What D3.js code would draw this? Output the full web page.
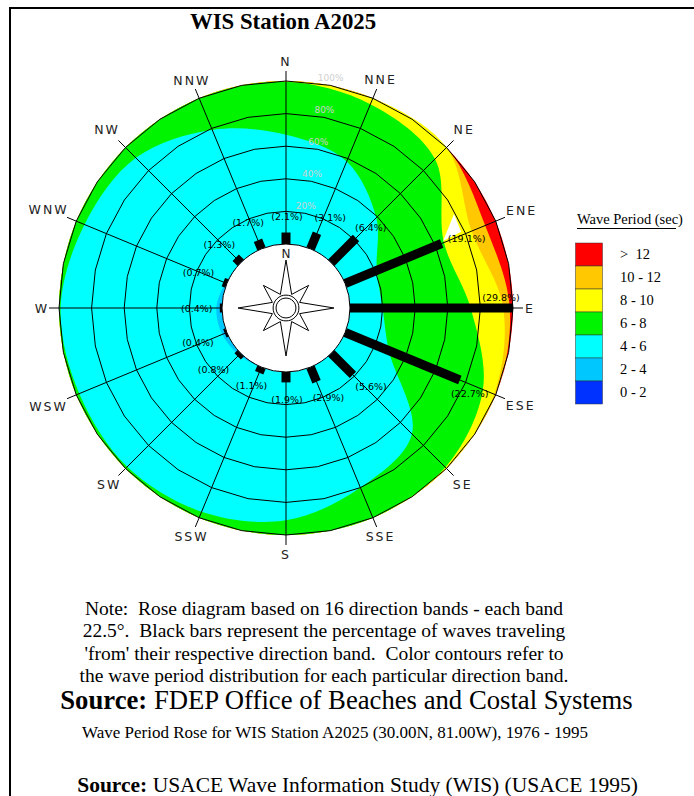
<!DOCTYPE html>
<html>
<head>
<meta charset="utf-8">
<script src="https://cdn.jsdelivr.net/npm/d3@7"></script>
<style>
body { margin: 0; background: white; }
svg { display: block; }
.serif { font-family: "Liberation Serif", serif; fill: black; }
.cad { font-family: "DejaVu Sans", sans-serif; fill: #222; }
</style>
</head>
<body>
<div id="chart"></div>
<script>
var directions = ['N', 'NNE', 'NE', 'ENE', 'E', 'ESE', 'SE', 'SSE', 'S', 'SSW', 'SW', 'WSW', 'W', 'WNW', 'NW', 'NNW'];
var barValues = [2.1, 3.1, 6.4, 19.1, 29.8, 22.7, 5.6, 2.9, 1.9, 1.1, 0.8, 0.4, 0.4, 0.7, 1.3, 1.7];
var ringTicks = [20, 40, 60, 80, 100];
var periodLabels = ['> 12', '10 - 12', '8 - 10', '6 - 8', '4 - 6', '2 - 4', '0 - 2'];
var periodColors = ['#ff0000', '#ffc800', '#ffff00', '#00f400', '#00ffff', '#00c8ff', '#0032ff'];

// cumulative percent reached at the top of each period class, N clockwise
var upTo12 = [100, 100, 100, 93, 98, 100, 100, 100, 100, 100, 100, 100, 100, 100, 100, 100];
var upTo10 = [100, 100, 100, 84, 94, 99, 100, 100, 100, 100, 100, 100, 100, 100, 100, 100];
var upTo8 = [99.5, 96, 90, 65.6, 74, 91.5, 99, 100, 100, 100, 100, 100, 100, 100, 100, 100];
var upTo6 = [67, 58, 39, 21, 20, 29, 70, 80, 91, 96, 98.5, 98, 99, 94.5, 91, 79];
var upTo4 = [0, 0, 0, 0, 0, 0, 0, 0, 0, 0, 1.5, 3, 3.5, 1, 0, 0];
var upTo2 = [0, 0, 0, 0, 0, 0, 0, 0, 0, 0, 0, 0, 0, 0, 0, 0];
var upToAll = [100, 100, 100, 100, 100, 100, 100, 100, 100, 100, 100, 100, 100, 100, 100, 100];

// small uncontoured gap by the ENE bar tip
var gapAngles = [60.8, 66.5, 66.9];
var gapPercents = [78.8, 77.9, 65.5];

var noteLines = [
    'Note:  Rose diagram based on 16 direction bands - each band',
    '22.5\u00b0.  Black bars represent the percentage of waves traveling',
    "'from' their respective direction band.  Color contours refer to",
    'the wave period distribution for each particular direction band.'
];

var width = 694, height = 796;
var cx = 286, cy = 308;
var innerR = 64, outerR = 227;
var tau = Math.PI * 2;

var svg = d3.select('#chart').append('svg')
    .attr('width', width)
    .attr('height', height);

var rS = d3.scaleLinear().domain([0, 100]).range([innerR, outerR]);
// bar length is in percent of waves, 29.8% just about fills the rose
var barS = d3.scaleLinear().domain([0, 29.8]).range([innerR, innerR + 163]);
var angS = d3.scaleLinear().domain([0, directions.length]).range([0, tau]);

function toXY(angle, r) {
    return [r * Math.sin(angle), -r * Math.cos(angle)];
}

var rose = svg.append('g')
    .attr('transform', 'translate(' + cx + ',' + cy + ')');

// colour contours, painted from the longest period inward
var contours = [upToAll, upTo12, upTo10, upTo8, upTo6, upTo4, upTo2];
var contourLine = d3.lineRadial()
    .angle(function (d, i) { return angS(i); })
    .radius(function (d) { return rS(d); })
    .curve(d3.curveCatmullRomClosed.alpha(0.5));

rose.selectAll('path.contour')
    .data(contours)
    .enter()
    .append('path')
    .attr('class', 'contour')
    .attr('d', contourLine)
    .style('fill', function (d, i) { return periodColors[i]; });

rose.append('path')
    .datum(gapPercents)
    .attr('d', d3.lineRadial()
        .angle(function (d, i) { return gapAngles[i] * Math.PI / 180; })
        .radius(function (d) { return rS(d); })
        .curve(d3.curveLinearClosed))
    .style('fill', 'white');

// rings are slightly faceted in the original
var ringSteps = d3.range(0, 32);
var ringLine = d3.lineRadial()
    .angle(function (d) { return d / 32 * tau; })
    .curve(d3.curveLinearClosed);

rose.selectAll('path.ring')
    .data(ringTicks)
    .enter()
    .append('path')
    .attr('class', 'ring')
    .attr('d', function (p) {
        return ringLine.radius(rS(p))(ringSteps);
    })
    .style('fill', 'none')
    .style('stroke', 'black')
    .style('stroke-width', 1);

rose.selectAll('line.spoke')
    .data(directions)
    .enter()
    .append('line')
    .attr('class', 'spoke')
    .attr('x1', function (d, i) { return toXY(angS(i), innerR)[0]; })
    .attr('y1', function (d, i) { return toXY(angS(i), innerR)[1]; })
    .attr('x2', function (d, i) { return toXY(angS(i), outerR + 10)[0]; })
    .attr('y2', function (d, i) { return toXY(angS(i), outerR + 10)[1]; })
    .style('stroke', 'black')
    .style('stroke-width', 1);

// black percentage bars
rose.selectAll('line.bar')
    .data(barValues)
    .enter()
    .append('line')
    .attr('class', 'bar')
    .attr('x1', function (d, i) { return toXY(angS(i), innerR)[0]; })
    .attr('y1', function (d, i) { return toXY(angS(i), innerR)[1]; })
    .attr('x2', function (d, i) { return toXY(angS(i), barS(d))[0]; })
    .attr('y2', function (d, i) { return toXY(angS(i), barS(d))[1]; })
    .style('stroke', 'black')
    .style('stroke-width', 9);

rose.append('circle')
    .attr('r', innerR)
    .style('fill', 'white')
    .style('stroke', 'black')
    .style('stroke-width', 1);

// ring percent labels
var ringLabelAngle = 11 * Math.PI / 180;
rose.selectAll('text.ringLabel')
    .data(ringTicks)
    .enter()
    .append('text')
    .attr('class', 'ringLabel')
    .attr('x', function (p) { return toXY(ringLabelAngle, rS(p) + 7)[0]; })
    .attr('y', function (p) { return toXY(ringLabelAngle, rS(p) + 7)[1]; })
    .attr('dy', '0.35em')
    .attr('text-anchor', 'middle')
    .style('font-family', '"DejaVu Sans", sans-serif')
    .style('font-size', '9px')
    .style('fill', '#cfcfcf')
    .text(function (p) { return p + '%'; });

// bar percent labels, gap is how far past the bar end each one sits
var labelGap = [16, 19, 18, 26, -12, 15, 20, 18, 17, 15, 27, 27, 24, 28, 26, 23];
var labelDx = [1, 6, 2, 1, 0, -4, 4, 5, 1, -2, -5, -2, 1, 1, 2, -1];
var labelDy = [0, 2, 2, 5, -10, 8, -2, -1, 0, -1, -6, -1, 1, 1, 5, 4];
rose.selectAll('text.barLabel')
    .data(barValues)
    .enter()
    .append('text')
    .attr('class', 'barLabel cad')
    .attr('x', function (d, i) { return toXY(angS(i), barS(d) + labelGap[i])[0] + labelDx[i]; })
    .attr('y', function (d, i) { return toXY(angS(i), barS(d) + labelGap[i])[1] + labelDy[i]; })
    .attr('dy', '0.35em')
    .attr('text-anchor', 'middle')
    .style('font-size', '9.5px')
    .style('fill', 'black')
    .text(function (d) { return '(' + d.toFixed(1) + '%)'; });

var dirGap = [20, 20, 25, 28, 17, 27, 23, 20, 19, 20, 23, 30, 17, 30, 26, 19];
rose.selectAll('text.dirLabel')
    .data(directions)
    .enter()
    .append('text')
    .attr('class', 'dirLabel cad')
    .attr('x', function (d, i) { return toXY(angS(i), outerR + dirGap[i])[0]; })
    .attr('y', function (d, i) { return toXY(angS(i), outerR + dirGap[i])[1]; })
    .attr('dy', '0.36em')
    .attr('text-anchor', 'middle')
    .style('font-size', '12.5px')
    .style('letter-spacing', '2px')
    .text(function (d) { return d; });

// compass in the middle
var starRadii = [48, 14.7, 32, 14.7];
var starSteps = d3.range(0, 16);
rose.append('path')
    .datum(starSteps)
    .attr('d', d3.lineRadial()
        .angle(function (d) { return d / 16 * tau; })
        .radius(function (d) { return starRadii[d % 4]; })
        .curve(d3.curveLinearClosed))
    .style('fill', 'white')
    .style('stroke', 'black')
    .style('stroke-width', 1);

var octaSteps = d3.range(0, 8);
[13, 10].forEach(function (r) {
    rose.append('path')
        .datum(octaSteps)
        .attr('d', d3.lineRadial()
            .angle(function (d) { return (d + 0.5) / 8 * tau; })
            .radius(r)
            .curve(d3.curveCatmullRomClosed))
        .style('fill', 'white')
        .style('stroke', 'black')
        .style('stroke-width', 1);
});

rose.append('text')
    .attr('class', 'cad')
    .attr('y', -54)
    .attr('dy', '0.36em')
    .attr('text-anchor', 'middle')
    .style('font-size', '12px')
    .text('N');

// legend
var legendY = d3.scaleBand()
    .domain(periodLabels)
    .range([243, 404]);

svg.selectAll('rect.key')
    .data(periodLabels)
    .enter()
    .append('rect')
    .attr('class', 'key')
    .attr('x', 575.5)
    .attr('y', function (d) { return legendY(d); })
    .attr('width', 27)
    .attr('height', legendY.bandwidth())
    .style('fill', function (d, i) { return periodColors[i]; })
    .style('stroke', '#333')
    .style('stroke-width', 0.5);

svg.selectAll('text.keyLabel')
    .data(periodLabels)
    .enter()
    .append('text')
    .attr('class', 'keyLabel serif')
    .attr('x', 620)
    .attr('y', function (d) { return legendY(d) + legendY.bandwidth() / 2; })
    .attr('dy', '0.33em')
    .style('font-size', '14.5px')
    .text(function (d) { return d.replace('> ', '>  '); })
    .style('white-space', 'pre');

svg.append('text')
    .attr('class', 'serif')
    .attr('x', 577)
    .attr('y', 224)
    .style('font-size', '14.5px')
    .text('Wave Period (sec)');

svg.append('line')
    .attr('x1', 577).attr('x2', 676)
    .attr('y1', 228.5).attr('y2', 228.5)
    .style('stroke', 'black')
    .style('stroke-width', 1);

// frame
svg.append('path')
    .attr('d', 'M10,796V8H694')
    .style('fill', 'none')
    .style('stroke', 'black')
    .style('stroke-width', 2);

// title and notes
svg.append('text')
    .attr('class', 'serif')
    .attr('x', 283)
    .attr('y', 29)
    .attr('text-anchor', 'middle')
    .style('font-size', '22.8px')
    .style('font-weight', 'bold')
    .text('WIS Station A2025');

svg.selectAll('text.note')
    .data(noteLines)
    .enter()
    .append('text')
    .attr('class', 'note serif')
    .attr('x', 324)
    .attr('y', function (d, i) { return 615 + i * 22.3; })
    .attr('text-anchor', 'middle')
    .style('font-size', '19.5px')
    .style('white-space', 'pre')
    .text(function (d) { return d; });

var source1 = svg.append('text')
    .attr('class', 'serif')
    .attr('x', 346.5)
    .attr('y', 709)
    .attr('text-anchor', 'middle')
    .style('font-size', '26.7px');
source1.append('tspan').style('font-weight', 'bold').text('Source:');
source1.append('tspan').text(' FDEP Office of Beaches and Costal Systems');

svg.append('text')
    .attr('class', 'serif')
    .attr('x', 335)
    .attr('y', 738)
    .attr('text-anchor', 'middle')
    .style('font-size', '17px')
    .text('Wave Period Rose for WIS Station A2025 (30.00N, 81.00W), 1976 - 1995');

var source2 = svg.append('text')
    .attr('class', 'serif')
    .attr('x', 357.5)
    .attr('y', 792)
    .attr('text-anchor', 'middle')
    .style('font-size', '21.5px');
source2.append('tspan').style('font-weight', 'bold').text('Source:');
source2.append('tspan').text(' USACE Wave Information Study (WIS) (USACE 1995)');
</script>
</body>
</html>
